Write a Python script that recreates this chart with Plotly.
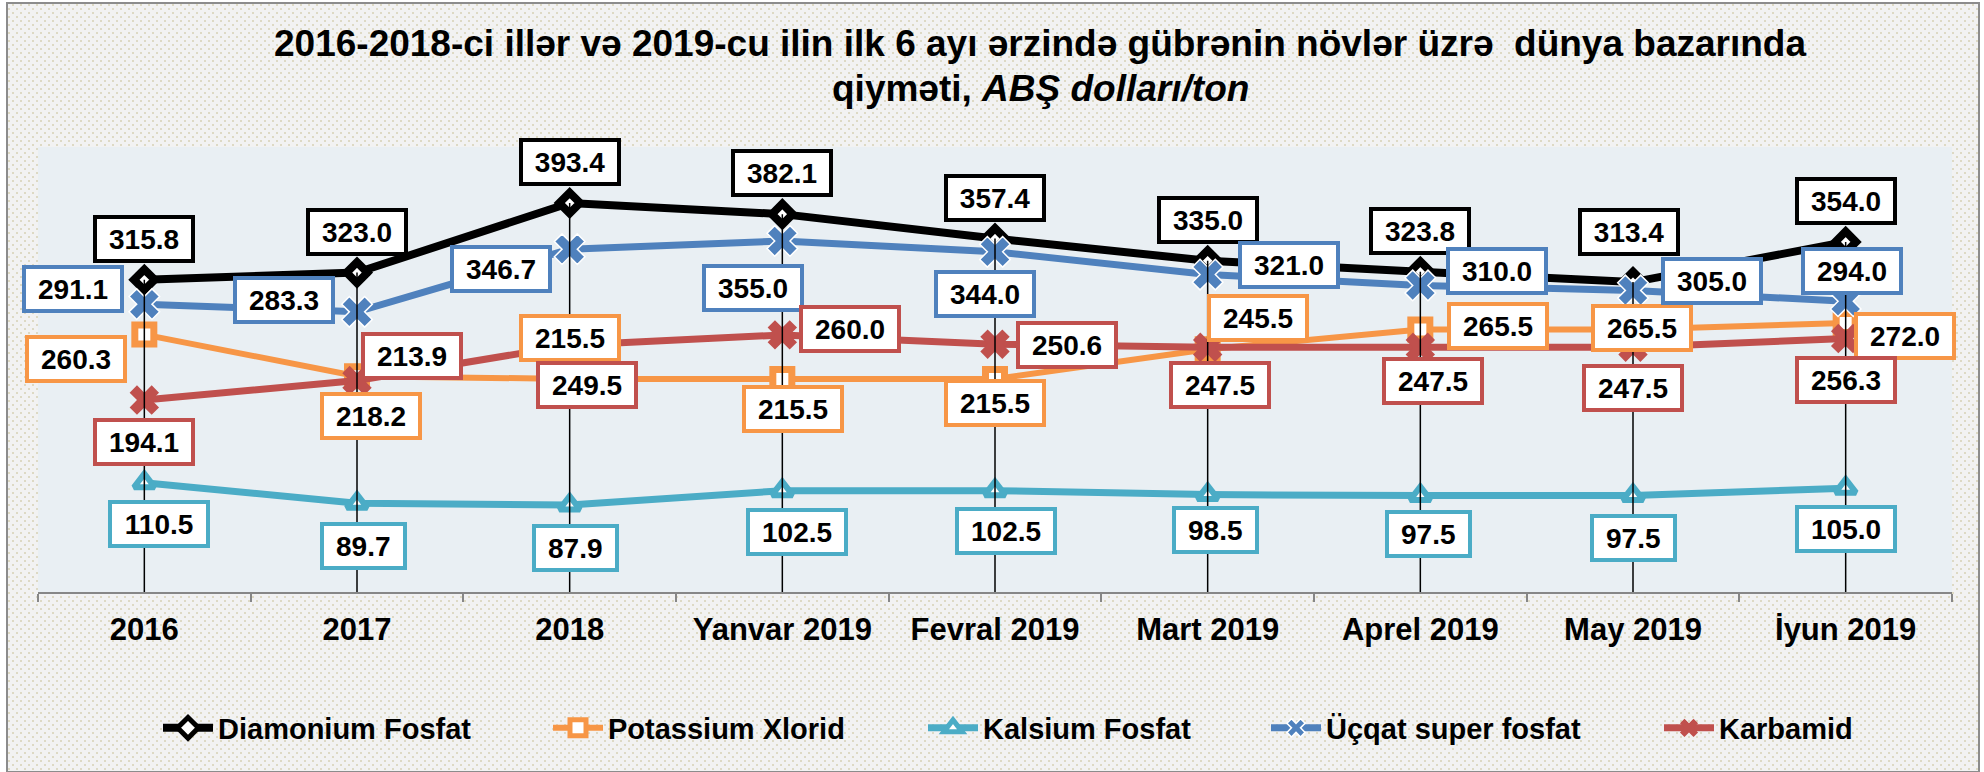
import base64
import zlib
import struct

import numpy as np
import plotly.graph_objects as go

# ---- data -----------------------------------------------------------------
categories = ["2016", "2017", "2018", "Yanvar 2019", "Fevral 2019",
              "Mart 2019", "Aprel 2019", "May 2019", "İyun 2019"]

diamonium_fosfat = [315.8, 323.0, 393.4, 382.1, 357.4, 335.0, 323.8, 313.4, 354.0]
potassium_xlorid = [260.3, 218.2, 215.5, 215.5, 215.5, 245.5, 265.5, 265.5, 272.0]
kalsium_fosfat = [110.5, 89.7, 87.9, 102.5, 102.5, 98.5, 97.5, 97.5, 105.0]
ucqat_super_fosfat = [291.1, 283.3, 346.7, 355.0, 344.0, 321.0, 310.0, 305.0, 294.0]
karbamid = [194.1, 213.9, 249.5, 260.0, 250.6, 247.5, 247.5, 247.5, 256.3]

title_line1 = "2016-2018-ci illər və 2019-cu ilin ilk 6 ayı ərzində gübrənin növlər üzrə  dünya bazarında"
title_line2 = "qiyməti, <i>ABŞ dolları/ton</i>"

# category positions on the x axis
xpos = list(range(len(categories)))

# ---- page geometry --------------------------------------------------------
W, H = 1984, 772
ML, MR, MT, MB = 38, 32, 147, 180
PW, PH = W - ML - MR, H - MT - MB


def fx(px):
    return (px - ML) / PW


def fy(py):
    return (H - MB - py) / PH


FONT = "Liberation Sans, Arial, sans-serif"

# ---- textured chart-area background (light dotted fill) -------------------
def dotted_png(w, h, box):
    x0, y0, x1, y1 = box
    img = np.full((h, w, 3), 255, dtype=np.uint8)
    base = np.array([242, 242, 242], dtype=np.uint8)
    dot = np.array([221, 217, 196], dtype=np.uint8)
    img[y0:y1, x0:x1] = base
    yy, xx = np.mgrid[0:h, 0:w]
    row = (yy // 4) % 2
    mask = ((yy % 4) < 2) & (((xx - 4 * row) % 8) < 2)
    region = np.zeros((h, w), dtype=bool)
    region[y0:y1, x0:x1] = True
    img[mask & region] = dot
    raw = b"".join(b"\x00" + img[r].tobytes() for r in range(h))

    def chunk(tag, data):
        c = struct.pack(">I", len(data)) + tag + data
        return c + struct.pack(">I", zlib.crc32(tag + data) & 0xFFFFFFFF)

    png = b"\x89PNG\r\n\x1a\n"
    png += chunk(b"IHDR", struct.pack(">IIBBBBB", w, h, 8, 2, 0, 0, 0))
    png += chunk(b"IDAT", zlib.compress(raw, 9))
    png += chunk(b"IEND", b"")
    return "data:image/png;base64," + base64.b64encode(png).decode()


BORDER = (7, 3, 1979, 772)
bg_src = dotted_png(W, H, BORDER)

# ---- series styling -------------------------------------------------------
series = [
    dict(name="Diamonium Fosfat", y=diamonium_fosfat, color="#000000", width=8,
         symbol="diamond", msize=16, mline=8, mfill="#FFFFFF"),
    dict(name="Potassium Xlorid", y=potassium_xlorid, color="#F79646", width=6,
         symbol="square", msize=19, mline=7, mfill="#FFFFFF"),
    dict(name="Kalsium Fosfat", y=kalsium_fosfat, color="#4BACC6", width=7,
         symbol="triangle-up", msize=18, mline=6, mfill="#FFFFFF"),
    dict(name="Üçqat super fosfat", y=ucqat_super_fosfat, color="#4F81BD", width=7,
         symbol="x", msize=27, mline=1.5, mfill="#4F81BD", mlinecolor="#FFFFFF"),
    dict(name="Karbamid", y=karbamid, color="#C0504D", width=7,
         symbol="x", msize=26, mline=0, mfill="#C0504D"),
]

# left edge of each legend entry along the bottom row (px)
legend_left = [158, 548, 923, 1266, 1659]

# label box offsets from each point (screen px, +dy = downward)
label_offsets = {
    "Diamonium Fosfat": [(0, -41)] * 7 + [(-4, -50), (0, -41)],
    "Potassium Xlorid": [(-68, 24), (14, 40), (0, -41), (11, 30), (0, 24),
                         (50, -31), (78, -3), (9, -1), (59, 13)],
    "Kalsium Fosfat": [(15, 41), (6, 43), (6, 43), (15, 41), (11, 40),
                       (8, 35), (8, 38), (0, 42), (0, 41)],
    "Üçqat super fosfat": [(-71, -15), (-73, -12), (-69, 20), (-29, 47), (-10, 42),
                           (81, -10), (77, -14), (79, -9), (6, -30)],
    "Karbamid": [(0, 42), (55, -24), (17, 40), (68, -6), (72, 1),
                 (12, 38), (13, 34), (0, 41), (0, 41)],
}

fig = go.Figure()

legend_layouts = {}
for i, s in enumerate(series):
    key = "legend" if i == 0 else f"legend{i + 1}"
    fig.add_trace(go.Scatter(
        x=xpos, y=s["y"], name=s["name"], mode="lines+markers",
        line=dict(color=s["color"], width=s["width"]),
        marker=dict(symbol=s["symbol"], size=s["msize"], color=s["mfill"],
                    line=dict(color=s.get("mlinecolor", s["color"]), width=s["mline"])),
        legend=key, hoverinfo="skip",
    ))
    legend_layouts[key] = dict(
        orientation="h", x=fx(legend_left[i]), xanchor="left",
        y=fy(728), yanchor="middle",
        font=dict(family=FONT, size=29, color="#000000", weight="bold"),
        bgcolor="rgba(0,0,0,0)", itemwidth=50,
    )

# drop lines from the top series down to the category axis
drop_x, drop_y = [], []
for xi, v in zip(xpos, diamonium_fosfat):
    drop_x += [xi, xi, None]
    drop_y += [0, v, None]
fig.add_trace(go.Scatter(x=drop_x, y=drop_y, mode="lines", showlegend=False,
                         line=dict(color="#000000", width=1.5), hoverinfo="skip"))

# value labels in bordered white boxes
annotations = []
for s in series:
    for xi, v, (dx, dy) in zip(xpos, s["y"], label_offsets[s["name"]]):
        txt = f"{v:.1f}"
        ndig = sum(ch.isdigit() for ch in txt)
        annotations.append(dict(
            x=xi, y=v, xref="x", yref="y", text=f"<b>{txt}</b>", showarrow=False,
            xanchor="center", yanchor="middle", xshift=dx, yshift=-dy,
            font=dict(family=FONT, size=28, color="#000000"),
            bgcolor="#FFFFFF", bordercolor=s["color"], borderwidth=4, borderpad=1,
            width=15.6 * ndig + 7.8 + 22, height=38,
        ))

# second title line
annotations.append(dict(
    x=fx(1040), y=fy(88), xref="paper", yref="paper", showarrow=False,
    xanchor="center", yanchor="middle", text=f"<b>{title_line2}</b>",
    font=dict(family=FONT, size=37, color="#000000"),
))

bounds = [i - 0.5 for i in range(len(categories) + 1)]

fig.update_layout(
    width=W, height=H,
    margin=dict(l=ML, r=MR, t=MT, b=MB, pad=0),
    paper_bgcolor="#FFFFFF",
    plot_bgcolor="rgba(0,0,0,0)",
    font=dict(family=FONT, color="#000000"),
    title=dict(
        text=f"<b>{title_line1}</b>",
        x=1040 / W, xanchor="center", xref="container",
        y=1 - 43 / H, yanchor="middle", yref="container",
        font=dict(family=FONT, size=37, color="#000000"),
    ),
    xaxis=dict(
        range=[-0.5, len(categories) - 0.5], showgrid=False, zeroline=False,
        showline=True, linecolor="#878787", linewidth=2,
        tickmode="array", tickvals=xpos, ticktext=categories, ticks="",
        tickfont=dict(family=FONT, size=31, color="#000000", weight="bold"),
        ticklabelstandoff=9,
        minor=dict(tickmode="array", tickvals=bounds, ticks="outside", ticklen=8,
                   tickwidth=2, tickcolor="#878787", showgrid=False),
    ),
    yaxis=dict(range=[0, 450], visible=False, showgrid=False, zeroline=False),
    annotations=annotations,
    images=[dict(
        source=bg_src, xref="paper", yref="paper", x=fx(0), y=fy(0),
        sizex=W / PW, sizey=H / PH, xanchor="left", yanchor="top",
        sizing="stretch", layer="below",
    )],
    shapes=[
        dict(type="rect", xref="paper", yref="paper", x0=0, x1=1, y0=0, y1=1,
             fillcolor="#E9EFF3", line=dict(width=0), layer="below"),
        dict(type="rect", xref="paper", yref="paper",
             x0=fx(BORDER[0]), x1=fx(BORDER[2]), y0=fy(BORDER[3]), y1=fy(BORDER[1]),
             line=dict(color="#8C8C8C", width=2), fillcolor="rgba(0,0,0,0)", layer="below"),
    ],
    **legend_layouts,
)

fig.write_html("out.html")
